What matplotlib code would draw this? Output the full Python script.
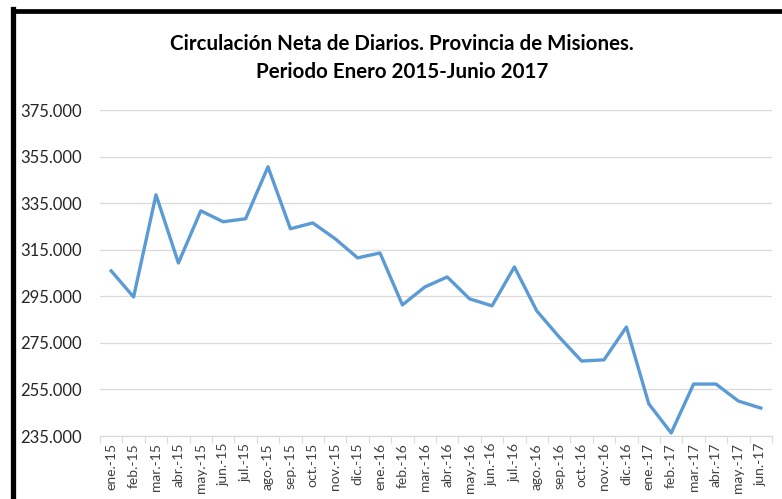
import numpy as np
from matplotlib import pyplot as plt
from matplotlib.lines import Line2D
from matplotlib.ticker import FuncFormatter, FixedLocator

# Monthly data
months = ['ene.-15', 'feb.-15', 'mar.-15', 'abr.-15', 'may.-15', 'jun.-15',
          'jul.-15', 'ago.-15', 'sep.-15', 'oct.-15', 'nov.-15', 'dic.-15',
          'ene.-16', 'feb.-16', 'mar.-16', 'abr.-16', 'may.-16', 'jun.-16',
          'jul.-16', 'ago.-16', 'sep.-16', 'oct.-16', 'nov.-16', 'dic.-16',
          'ene.-17', 'feb.-17', 'mar.-17', 'abr.-17', 'may.-17', 'jun.-17']
circulacion = [305900, 294700, 338600, 309300, 331700, 327000,
               328300, 350600, 324000, 326500, 319700, 311500,
               313600, 291300, 299000, 303300, 293900, 290900,
               307600, 288700, 277500, 267200, 267700, 281800,
               248800, 236300, 257300, 257300, 250000, 247000]
y_ticks = list(range(235000, 375001, 20000))

title = 'Circulación Neta de Diarios. Provincia de Misiones.\nPeriodo Enero 2015-Junio 2017'

W, H = 782, 499
plt.rcParams['font.family'] = ['Lato', 'DejaVu Sans']

fig = plt.figure(figsize=(W / 100, H / 100), dpi=100)
fig.patch.set_facecolor('white')

# black frame on the left and top edges
fig.add_artist(Line2D([13.5 / W, 13.5 / W], [0, 1 - 9 / H], transform=fig.transFigure,
                      color='black', lw=3.8, solid_capstyle='projecting'))
fig.add_artist(Line2D([13.5 / W, 1], [1 - 11 / H, 1 - 11 / H], transform=fig.transFigure,
                      color='black', lw=3.4, solid_capstyle='butt'))

ax = fig.add_axes([100 / W, (H - 436) / H, 672 / W, 326 / H])

x = np.arange(len(months))
ax.plot(x, circulacion, color='#5B9BD5', lw=2.4, solid_joinstyle='round')

ax.set_xlim(-0.5, len(months) - 0.5)
ax.set_ylim(y_ticks[0], y_ticks[-1])
ax.set_yticks(y_ticks)
ax.yaxis.set_major_formatter(FuncFormatter(lambda v, p: f'{int(v):,}'.replace(',', '.')))
ax.set_xticks(x)
ax.set_xticklabels(months, rotation=90, fontsize=10, color='#404040')
ax.xaxis.set_minor_locator(FixedLocator(np.arange(-0.5, len(months), 1.0)))
ax.tick_params(axis='x', which='major', length=0, pad=5)
ax.tick_params(axis='x', which='minor', length=5, color='#D9D9D9', width=0.8)
ax.tick_params(axis='y', length=0, labelsize=12, pad=13, labelcolor='#262626')

ax.grid(axis='y', color='#D9D9D9', lw=0.9)
ax.set_axisbelow(True)
for side in ['top', 'right', 'left']:
    ax.spines[side].set_visible(False)
ax.spines['bottom'].set_color('#D9D9D9')
ax.spines['bottom'].set_linewidth(0.9)

fig.text(402 / W, 1 - 58 / H, title, ha='center', va='center', fontsize=14.8,
         fontweight='bold', linespacing=1.45, color='black')

fig.savefig('out.png', dpi=100, facecolor='white')
